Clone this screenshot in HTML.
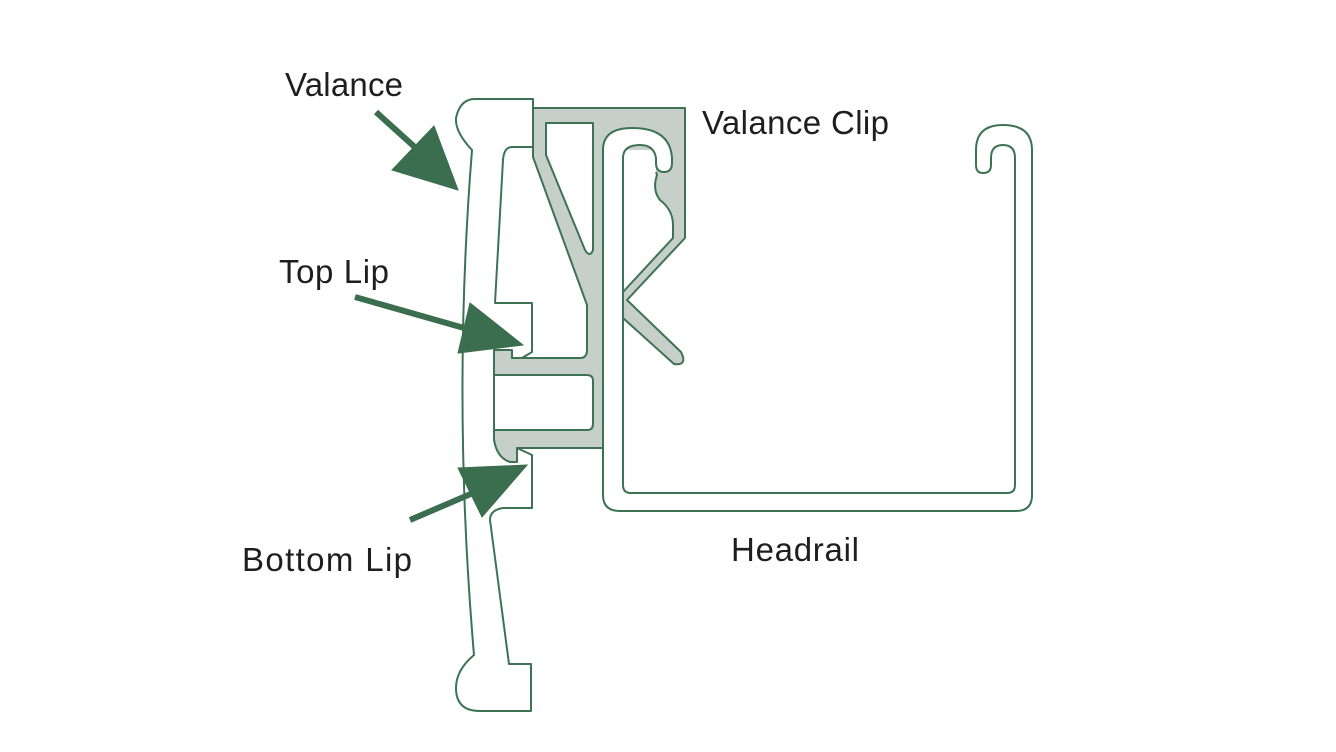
<!DOCTYPE html>
<html><head><meta charset="utf-8"><style>
html,body{margin:0;padding:0;background:#fff;}
svg{display:block;}
text{font-family:"Liberation Sans",sans-serif;font-size:33px;fill:#1e1e1e;}
</style></head><body>
<svg width="1336" height="752" viewBox="0 0 1336 752" xmlns="http://www.w3.org/2000/svg">
<g stroke="#3d7353" stroke-width="2" stroke-linejoin="round">
<path fill="#c6cfc9" d="M533,108 L685,108 L685,238 L627,300 L681,352 Q688,366 674,364 L623,318 L623,448 L517,448 L517,462 L510,462 Q497,458 494,440 L494,350 L512,350 L512,358 L580,358 Q587,358 587,350 L587,305 L533,157 Z"/>
<path fill="#fff" d="M546,123 L593,123 L593,250 Q590,258 585,250 L546,155 Z"/>
<path fill="#fff" d="M494,375 L587,375 Q593,375 593,381 L593,424 Q593,430 587,430 L494,430"/>
<path fill="#fff" stroke="none" d="M623,150 L656,150 L656,176 L623,176 Z"/>
<path fill="#fff" d="M656,172 L657,175 Q652,190 660,200 Q673,210 673,225 L673,238 L623,292 L623,172"/>
<path fill="#fff" d="M603,150 Q603,128 632,128 Q670,128 672,158 L672,163 Q672,172 664,172 Q656,172 656,163 L656,158 Q654,145 640,145 Q623,145 623,158 L623,485 Q623,493 631,493 L1007,493 Q1015,493 1015,485 L1015,158 Q1015,145 1003,145 Q991,145 991,158 L991,165 Q991,173 983,173 Q976,173 976,165 L976,150 Q976,125 1003,125 Q1032,125 1032,150 L1032,495 Q1032,511 1016,511 L620,511 Q603,511 603,495 Z"/>
<path fill="#fff" d="M475,99 L533,99 L533,147 L512,147 Q504,147 503,160 L495,303 L532,303 L532,352 L522,358 L512,358 L512,350 L494,350 L494,440 Q497,458 510,462 L517,462 L517,448 L532,455 L532,508 L503,508 Q490,510 490,520 L509,664 L531,664 L531,711 L480,711 Q456,711 456,688 Q456,670 474,655 Q452,400 472,150 Q455,132 456,118 Q460,99 475,99 Z"/>
</g>
<g fill="#3a6e4f" stroke="#3a6e4f">
<line x1="376" y1="112" x2="418" y2="150" stroke-width="6"/>
<polygon points="458,190 392,170 434,126" stroke-width="1"/>
<line x1="355" y1="297" x2="478" y2="332" stroke-width="6"/>
<polygon points="523,345 458,353 470,303" stroke-width="1"/>
<line x1="410" y1="520" x2="480" y2="490" stroke-width="6"/>
<polygon points="527,465 458,468 482,517" stroke-width="1"/>
</g>
<text x="285" y="96" textLength="118">Valance</text>
<text x="702" y="134" textLength="187">Valance Clip</text>
<text x="279" y="283" textLength="110">Top Lip</text>
<text x="242" y="571" textLength="170">Bottom Lip</text>
<text x="731" y="561" textLength="128">Headrail</text>
</svg>
</body></html>
